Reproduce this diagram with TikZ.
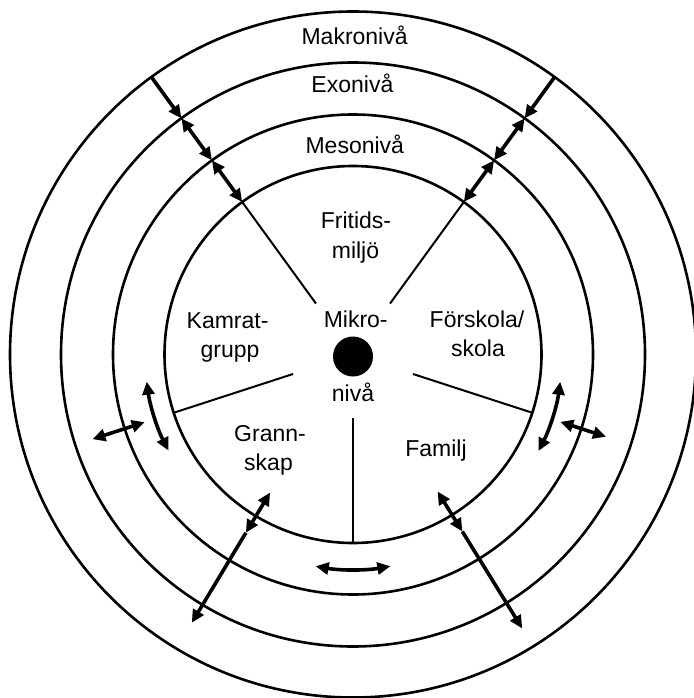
\documentclass[tikz,border=0pt]{standalone}
\usepackage{fontspec}
\setmainfont{Liberation Sans}
\usetikzlibrary{arrows.meta}
\tikzset{
  ring/.style={line width=2.6pt},
  spoke/.style={line width=2pt},
  tipA/.tip={Triangle[length=13pt,width=12pt]},
  sgl/.style={line width=3.6pt,-tipA},
  dbl/.style={line width=3.6pt,tipA-tipA},
  lbl/.style={font=\fontsize{23}{28}\selectfont, inner sep=0pt, anchor=base},
}
\begin{document}
\begin{tikzpicture}[x=1pt,y=1pt]
\useasboundingbox (0,0) rectangle (693,-698);
\coordinate (C) at (353,-354.5);
% rings
\draw[ring] (C) circle[radius=343];
\draw[ring] (C) circle[radius=292];
\draw[ring] (C) circle[radius=240];
\draw[ring] (C) circle[radius=188.5];
% centre dot
\node[circle, fill=black, minimum size=40pt, inner sep=0pt] (dot) at (353,-356.5) {};
% spokes
\foreach \a in {54,126,198,270,342} {
  \path (C) ++(\a:63) coordinate (sa\a);
  \path (C) ++(\a:188.5) coordinate (sb\a);
  \draw[spoke] (sa\a) -- (sb\a);
}
% upper radial arrows
\foreach \a in {54,126} {
  \path (C) ++(\a:343) coordinate (m\a);
  \path (C) ++(\a:292) coordinate (e\a);
  \path (C) ++(\a:240) coordinate (z\a);
  \path (C) ++(\a:188.5) coordinate (i\a);
  \draw[sgl] (m\a) -- (e\a);
  \draw[dbl] (e\a) -- (z\a);
  \draw[dbl] (z\a) -- (i\a);
}
% curved arrows
\path (C) ++(187.5:208) coordinate (la);
\draw[dbl] (la) arc[start angle=187.5, end angle=207.5, radius=208];
\path (C) ++(332.5:209) coordinate (ra);
\draw[dbl] (ra) arc[start angle=332.5, end angle=352.5, radius=209];
\path (C) ++(260:215) coordinate (ba);
\draw[dbl] (ba) arc[start angle=260, end angle=280, radius=215];
% short radial arrows
\path (C) ++(198:219) coordinate (lr1);
\path (C) ++(198:274) coordinate (lr2);
\draw[dbl] (lr1) -- (lr2);
\path (C) ++(342:218) coordinate (rr1);
\path (C) ++(342:266) coordinate (rr2);
\draw[dbl] (rr1) -- (rr2);
% long arrows
\path (C) ++(239:161) coordinate (g1);
\path (C) ++(239:208) coordinate (g2);
\path (C) ++(239:313) coordinate (g3);
\draw[dbl] (g1) -- (g2);
\draw[sgl] (g2) -- (g3);
\path (C) ++(301.7:161) coordinate (f1);
\path (C) ++(301.7:208) coordinate (f2);
\path (C) ++(301.7:322) coordinate (f3);
\draw[dbl] (f1) -- (f2);
\draw[sgl] (f2) -- (f3);
% labels
\node[lbl] (makro) at (354.6,-45) {Makronivå};
\node[lbl] (exo) at (352.4,-93) {Exonivå};
\node[lbl] (meso) at (354.8,-153) {Mesonivå};
\node[lbl] (frit1) at (356,-228) {Fritids-};
\node[lbl] (frit2) at (355.5,-258) {miljö};
\node[lbl] (kam1) at (227.6,-328) {Kamrat-};
\node[lbl] (kam2) at (230,-357) {grupp};
\node[lbl] (mik1) at (355.7,-327) {Mikro-};
\node[lbl] (mik2) at (353,-401) {nivå};
\node[lbl] (fors1) at (477,-327) {Förskola/};
\node[lbl] (fors2) at (478,-356) {skola};
\node[lbl] (gran1) at (270,-441) {Grann-};
\node[lbl] (gran2) at (268.5,-470) {skap};
\node[lbl] (fam) at (436,-456) {Familj};
\end{tikzpicture}
\end{document}
